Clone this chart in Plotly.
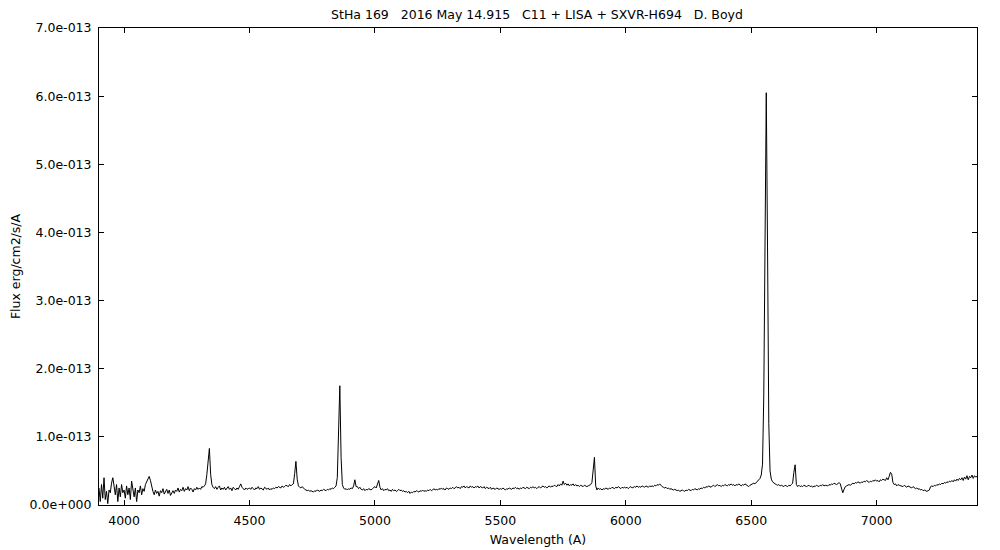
import numpy as np
import plotly.graph_objects as go

# Wavelength grid (Angstrom): 3900 .. 7400 in 5 A steps
WAVE_START = 3900
WAVE_STEP = 5

# Flux in units of 1e-13 erg/cm2/s/A, one row per 100 A
FLUX_E13 = [
    # 3900-3995
    0.25, 0.05, 0.30, 0.10, 0.40, 0.08, 0.20, 0.02, 0.22, 0.18, 0.32, 0.40, 0.28, 0.15, 0.30, 0.05, 0.25, 0.12, 0.30, 0.18,
    # 4000-4095
    0.22, 0.10, 0.28, 0.15, 0.25, 0.08, 0.35, 0.20, 0.12, 0.25, 0.05, 0.22, 0.18, 0.28, 0.15, 0.24, 0.20, 0.30, 0.35, 0.38,
    # 4100-4195
    0.42, 0.36, 0.25, 0.20, 0.15, 0.22, 0.17, 0.20, 0.13, 0.21, 0.18, 0.24, 0.16, 0.20, 0.23, 0.17, 0.22, 0.14, 0.19, 0.21,
    # 4200-4295
    0.17, 0.22, 0.20, 0.25, 0.19, 0.23, 0.21, 0.26, 0.20, 0.24, 0.22, 0.27, 0.21, 0.25, 0.23, 0.19, 0.24, 0.22, 0.26, 0.23,
    # 4300-4395
    0.25, 0.23, 0.27, 0.26, 0.28, 0.31, 0.45, 0.70, 0.83, 0.45, 0.30, 0.26, 0.24, 0.27, 0.23, 0.26, 0.28, 0.22, 0.25, 0.23,
    # 4400-4495
    0.26, 0.22, 0.24, 0.27, 0.23, 0.25, 0.21, 0.26, 0.24, 0.22, 0.25, 0.23, 0.27, 0.31, 0.26, 0.24, 0.22, 0.25, 0.23, 0.24,
    # 4500-4595
    0.25, 0.23, 0.26, 0.24, 0.22, 0.25, 0.24, 0.27, 0.23, 0.25, 0.24, 0.22, 0.26, 0.24, 0.23, 0.25, 0.22, 0.24, 0.23, 0.25,
    # 4600-4695
    0.24, 0.26, 0.25, 0.27, 0.26, 0.25, 0.28, 0.26, 0.27, 0.29, 0.28, 0.27, 0.30, 0.28, 0.30, 0.31, 0.46, 0.64, 0.38, 0.28,
    # 4700-4795
    0.26, 0.25, 0.27, 0.24, 0.23, 0.22, 0.21, 0.22, 0.20, 0.21, 0.20, 0.19, 0.21, 0.20, 0.22, 0.21, 0.20, 0.22, 0.21, 0.23,
    # 4800-4895
    0.22, 0.21, 0.23, 0.22, 0.24, 0.23, 0.25, 0.24, 0.26, 0.28, 0.40, 0.95, 1.75, 0.70, 0.30, 0.25, 0.23, 0.24, 0.22, 0.24,
    # 4900-4995
    0.23, 0.25, 0.24, 0.28, 0.37, 0.27, 0.27, 0.24, 0.26, 0.23, 0.22, 0.24, 0.21, 0.23, 0.22, 0.24, 0.23, 0.22, 0.24, 0.26,
    # 5000-5095
    0.27, 0.25, 0.30, 0.36, 0.26, 0.22, 0.24, 0.21, 0.23, 0.22, 0.24, 0.21, 0.22, 0.20, 0.23, 0.21, 0.22, 0.20, 0.21, 0.23,
    # 5100-5195
    0.21, 0.22, 0.20, 0.21, 0.19, 0.20, 0.18, 0.20, 0.17, 0.19, 0.18, 0.20, 0.19, 0.21, 0.20, 0.19, 0.21, 0.20, 0.22, 0.20,
    # 5200-5295
    0.21, 0.20, 0.22, 0.21, 0.23, 0.21, 0.22, 0.24, 0.22, 0.23, 0.22, 0.24, 0.23, 0.25, 0.23, 0.24, 0.22, 0.25, 0.24, 0.23,
    # 5300-5395
    0.25, 0.24, 0.26, 0.24, 0.25, 0.27, 0.25, 0.26, 0.24, 0.27, 0.26, 0.28, 0.25, 0.27, 0.26, 0.25, 0.28, 0.26, 0.27, 0.25,
    # 5400-5495
    0.27, 0.26, 0.28, 0.25, 0.27, 0.26, 0.25, 0.27, 0.24, 0.26, 0.25, 0.24, 0.26, 0.23, 0.25, 0.24, 0.23, 0.25, 0.24, 0.23,
    # 5500-5595
    0.24, 0.23, 0.25, 0.24, 0.22, 0.24, 0.23, 0.25, 0.24, 0.23, 0.25, 0.24, 0.26, 0.24, 0.25, 0.23, 0.25, 0.24, 0.26, 0.25,
    # 5600-5695
    0.24, 0.26, 0.25, 0.24, 0.26, 0.25, 0.27, 0.25, 0.26, 0.24, 0.26, 0.27, 0.25, 0.26, 0.28, 0.26, 0.27, 0.25, 0.27, 0.28,
    # 5700-5795
    0.26, 0.28, 0.27, 0.29, 0.28, 0.27, 0.30, 0.28, 0.31, 0.29, 0.35, 0.30, 0.32, 0.29, 0.31, 0.28, 0.30, 0.29, 0.31, 0.28,
    # 5800-5895
    0.30, 0.28, 0.29, 0.27, 0.29, 0.28, 0.27, 0.29, 0.28, 0.27, 0.28, 0.29, 0.30, 0.33, 0.50, 0.70, 0.28, 0.22, 0.25, 0.23,
    # 5900-5995
    0.24, 0.22, 0.24, 0.23, 0.25, 0.24, 0.23, 0.25, 0.24, 0.26, 0.25, 0.24, 0.26, 0.25, 0.27, 0.25, 0.24, 0.26, 0.25, 0.26,
    # 6000-6095
    0.25, 0.26, 0.24, 0.26, 0.27, 0.25, 0.26, 0.27, 0.26, 0.28, 0.26, 0.27, 0.26, 0.28, 0.27, 0.26, 0.28, 0.27, 0.26, 0.28,
    # 6100-6195
    0.27, 0.28, 0.27, 0.29, 0.28, 0.30, 0.29, 0.31, 0.28, 0.27, 0.26, 0.25, 0.26, 0.24, 0.25, 0.23, 0.24, 0.23, 0.22, 0.23,
    # 6200-6295
    0.22, 0.21, 0.22, 0.20, 0.21, 0.22, 0.21, 0.20, 0.22, 0.21, 0.23, 0.22, 0.21, 0.23, 0.22, 0.24, 0.23, 0.22, 0.24, 0.23,
    # 6300-6395
    0.25, 0.24, 0.26, 0.25, 0.27, 0.26, 0.28, 0.27, 0.26, 0.28, 0.29, 0.27, 0.28, 0.30, 0.28, 0.29, 0.27, 0.29, 0.28, 0.30,
    # 6400-6495
    0.29, 0.28, 0.30, 0.29, 0.31, 0.29, 0.30, 0.28, 0.30, 0.29, 0.31, 0.30, 0.28, 0.30, 0.29, 0.31, 0.30, 0.28, 0.27, 0.29,
    # 6500-6595
    0.30, 0.31, 0.32, 0.31, 0.33, 0.34, 0.36, 0.39, 0.44, 0.60, 1.60, 4.50, 6.05, 3.80, 1.20, 0.50, 0.38, 0.34, 0.32, 0.31,
    # 6600-6695
    0.30, 0.29, 0.30, 0.28, 0.29, 0.28, 0.27, 0.29, 0.28, 0.27, 0.29, 0.28, 0.30, 0.32, 0.48, 0.59, 0.30, 0.27, 0.29, 0.27,
    # 6700-6795
    0.28, 0.27, 0.29, 0.28, 0.27, 0.28, 0.29, 0.27, 0.28, 0.26, 0.28, 0.27, 0.29, 0.28, 0.27, 0.29, 0.28, 0.30, 0.28, 0.29,
    # 6800-6895
    0.29, 0.28, 0.30, 0.29, 0.31, 0.30, 0.32, 0.31, 0.30, 0.31, 0.33, 0.31, 0.25, 0.18, 0.23, 0.27, 0.28, 0.29, 0.30, 0.29,
    # 6900-6995
    0.30, 0.32, 0.31, 0.33, 0.32, 0.34, 0.33, 0.32, 0.34, 0.33, 0.35, 0.34, 0.36, 0.35, 0.33, 0.35, 0.34, 0.36, 0.35, 0.37,
    # 7000-7095
    0.35, 0.36, 0.34, 0.37, 0.36, 0.38, 0.37, 0.36, 0.40, 0.37, 0.42, 0.48, 0.45, 0.33, 0.30, 0.31, 0.28, 0.30, 0.29, 0.28,
    # 7100-7195
    0.28, 0.27, 0.29, 0.27, 0.26, 0.28, 0.27, 0.26, 0.25, 0.27, 0.26, 0.24, 0.25, 0.23, 0.24, 0.22, 0.23, 0.21, 0.22, 0.21,
    # 7200-7295
    0.20, 0.21, 0.22, 0.27, 0.28, 0.27, 0.29, 0.28, 0.30, 0.29, 0.31, 0.30, 0.32, 0.31, 0.33, 0.32, 0.34, 0.33, 0.35, 0.34,
    # 7300-7395
    0.36, 0.34, 0.37, 0.35, 0.38, 0.36, 0.39, 0.37, 0.40, 0.36, 0.41, 0.38, 0.43, 0.37, 0.42, 0.40, 0.44, 0.39, 0.43, 0.41,
    # 7400
    0.42,
]

X_TICKS = [4000, 4500, 5000, 5500, 6000, 6500, 7000]
Y_TICK_VALUES_E13 = [0, 1, 2, 3, 4, 5, 6, 7]
Y_TICK_LABELS = ["0.0e+000", "1.0e-013", "2.0e-013", "3.0e-013", "4.0e-013",
                 "5.0e-013", "6.0e-013", "7.0e-013"]

TITLE = "StHa 169   2016 May 14.915   C11 + LISA + SXVR-H694   D. Boyd"
X_TITLE = "Wavelength (A)"
Y_TITLE = "Flux erg/cm2/s/A"

wavelength = WAVE_START + WAVE_STEP * np.arange(len(FLUX_E13))
flux = np.array(FLUX_E13) * 1e-13

FONT = "DejaVu Sans, Verdana, sans-serif"
FS = 12.5

fig = go.Figure()
fig.add_trace(go.Scatter(
    x=wavelength, y=flux, mode="lines",
    line=dict(color="black", width=1.0),
    showlegend=False, hoverinfo="skip",
))

axis_common = dict(
    showline=True, linecolor="black", linewidth=1,
    mirror="ticks", ticks="inside", ticklen=5, tickcolor="black",
    showgrid=False, zeroline=False, automargin=False,
    tickfont=dict(family=FONT, size=FS, color="black"),
)

# page body has an 8px default margin; margins below compensate for it
fig.update_layout(
    width=1000, height=550,
    margin=dict(l=91, r=31, t=20, b=53),
    paper_bgcolor="white", plot_bgcolor="white",
    font=dict(family=FONT, size=FS, color="black"),
    title=dict(
        text=TITLE.replace(" ", "\u00a0"),
        x=0.529, xanchor="center", y=1 - 7 / 550, yanchor="middle",
        font=dict(family=FONT, size=FS, color="black"),
        automargin=False,
    ),
    xaxis=dict(
        range=[3900, 7400], tickvals=X_TICKS,
        ticktext=[str(v) for v in X_TICKS],
        ticklabelstandoff=4,
        title=dict(text=X_TITLE, standoff=8, font=dict(family=FONT, size=FS)),
        **axis_common,
    ),
    yaxis=dict(
        range=[0, 7e-13],
        tickvals=[v * 1e-13 for v in Y_TICK_VALUES_E13],
        ticktext=Y_TICK_LABELS,
        ticklabelstandoff=4,
        title=dict(text=Y_TITLE, standoff=9, font=dict(family=FONT, size=FS)),
        **axis_common,
    ),
)

fig.write_html("out.html")
